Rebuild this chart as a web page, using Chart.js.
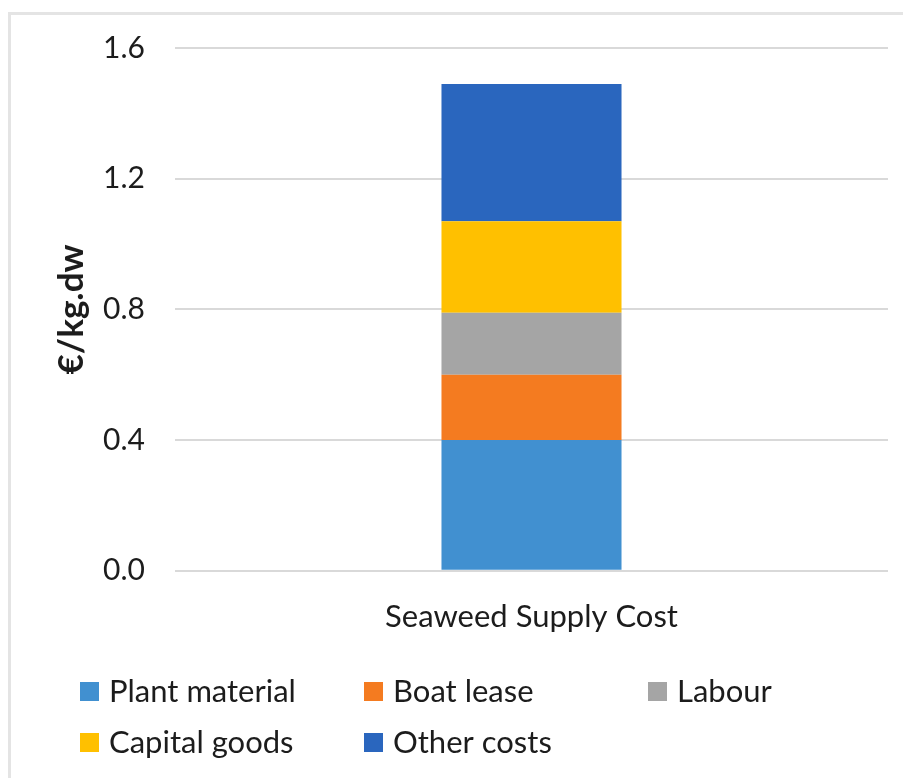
<!DOCTYPE html>
<html>
<head>
<meta charset="utf-8">
<script src="https://cdn.jsdelivr.net/npm/chart.js@4.4.1/dist/chart.umd.min.js"></script>
<style>
  html, body { margin: 0; padding: 0; background: #fff; }
  #wrap { position: relative; width: 903px; height: 778px; overflow: hidden; }
  #frame {
    position: absolute; left: 8px; top: 12px; width: 920px; height: 800px;
    border-left: 3px solid #e4e4e4; border-top: 3px solid #e4e4e4;
  }
  canvas { position: absolute; left: 0; top: 0; }
</style>
</head>
<body>
<div id="wrap">
  <div id="frame"></div>
  <canvas id="c" width="903" height="778"></canvas>
</div>
<script>
const categories = ['Seaweed Supply Cost'];
const seriesNames = ['Plant material', 'Boat lease', 'Labour', 'Capital goods', 'Other costs'];
const plantMaterial = [0.40];
const boatLease = [0.20];
const labour = [0.19];
const capitalGoods = [0.28];
const otherCosts = [0.42];
const yTicks = [0, 0.4, 0.8, 1.2, 1.6];

const colors = ['#4190d0', '#f47b20', '#a5a5a5', '#ffc000', '#2a66be'];
const seriesValues = [plantMaterial, boatLease, labour, capitalGoods, otherCosts];
const FONT = 'Lato, "Liberation Sans", sans-serif';
const TEXT = '#1c1c1c';

// legend laid out on a fixed 3-column grid under the plot
const gridLegend = {
  id: 'gridLegend',
  afterDraw(chart) {
    const ctx = chart.ctx;
    ctx.save();
    ctx.font = '31px ' + FONT;
    ctx.textBaseline = 'middle';
    chart.data.datasets.forEach((ds, i) => {
      const col = i % 3, row = Math.floor(i / 3);
      const x = 80 + col * 284;
      const y = 691 + row * 51;
      ctx.fillStyle = ds.backgroundColor;
      ctx.fillRect(x, y - 9, 19, 19);
      ctx.fillStyle = TEXT;
      ctx.fillText(ds.label, x + 29, y + 1);
    });
    ctx.restore();
  }
};

new Chart(document.getElementById('c'), {
  type: 'bar',
  data: {
    labels: categories,
    datasets: seriesNames.map((name, i) => ({
      label: name,
      data: seriesValues[i],
      backgroundColor: colors[i],
      borderWidth: 0,
      categoryPercentage: 0.5,
      barPercentage: 0.505
    }))
  },
  options: {
    responsive: false,
    animation: false,
    layout: { padding: { top: 32, right: 15, bottom: 122, left: 0 } },
    scales: {
      x: {
        stacked: true,
        grid: { display: false },
        border: { display: false },
        ticks: { color: TEXT, font: { family: FONT, size: 31 }, padding: 20 }
      },
      y: {
        stacked: true,
        min: 0,
        max: 1.6,
        afterBuildTicks: (s) => { s.ticks = yTicks.map(v => ({ value: v })); },
        afterFit: (s) => { s.width = 175; },
        grid: { color: '#d9d9d9', lineWidth: 2, drawTicks: false },
        border: { display: false },
        ticks: {
          color: TEXT,
          font: { family: FONT, size: 30 },
          padding: 30,
          callback: (v) => v.toFixed(1)
        },
        title: {
          display: true,
          text: '€/kg.dw',
          color: TEXT,
          font: { family: FONT, size: 35, weight: 'bold' },
          padding: { top: 51, bottom: 0 }
        }
      }
    },
    plugins: {
      legend: { display: false },
      tooltip: { enabled: false }
    }
  },
  plugins: [gridLegend]
});
</script>
</body>
</html>
